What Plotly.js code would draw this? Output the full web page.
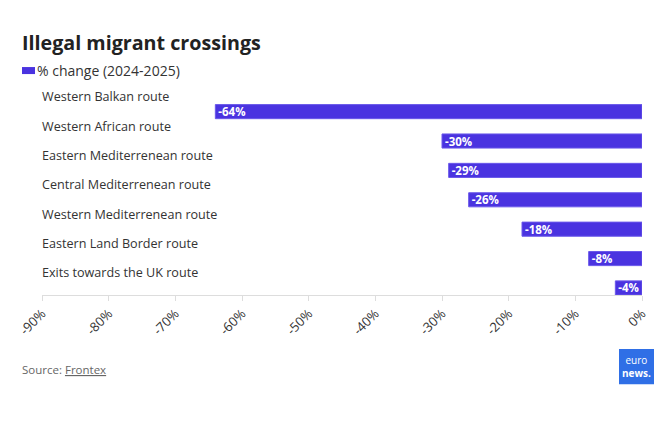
<!DOCTYPE html>
<html>
<head>
<meta charset="utf-8">
<script src="https://cdn.plot.ly/plotly-3.0.1.min.js"></script>
<style>html,body{margin:0;padding:0;background:#fff;}#chart{width:670px;height:421px;}</style>
</head>
<body>
<div id="chart"></div>
<script>
const routes = ["Western Balkan route","Western African route","Eastern Mediterrenean route","Central Mediterrenean route","Western Mediterrenean route","Eastern Land Border route","Exits towards the UK route"];
const change = [-64,-30,-29,-26,-18,-8,-4];
const labels = ["-64%","-30%","-29%","-26%","-18%","-8%","-4%"];
const seriesName = "% change (2024-2025)";
const tickVals = [-90,-80,-70,-60,-50,-40,-30,-20,-10,0];
const tickText = ["-90%","-80%","-70%","-60%","-50%","-40%","-30%","-20%","-10%","0%"];

const W=670,H=421, L=42, R=642, T=94.4, B=295;
const px = p => (p-L)/(R-L);
const py = p => (B-p)/(B-T);
const FONT = "Open Sans, Noto Sans, sans-serif";
const BLUE = "#4a33e0";

const trace = {
  type:"bar", orientation:"h", y:routes, x:change, text:labels,
  textposition:"inside", insidetextanchor:"end", textangle:0, constraintext:"none",
  textfont:{color:"#fff", size:11.5, family:FONT, weight:700},
  marker:{color:BLUE, line:{color:"#6a58ea", width:1}},
  width:0.48, name:seriesName, hoverinfo:"none", cliponaxis:false
};

const ann = routes.map(r => ({xref:"paper", x:0, xshift:-2, yref:"y", y:r, yshift:15, xanchor:"left", yanchor:"middle",
  text:r, showarrow:false, font:{size:12.6, color:"#333", family:FONT}}));
ann.push({xref:"paper", yref:"paper", x:px(20), y:py(43), xanchor:"left", yanchor:"middle", showarrow:false,
  text:"<b>Illegal migrant crossings</b>", font:{size:19.7, color:"#222", family:FONT}});
ann.push({xref:"paper", yref:"paper", x:px(35), y:py(71), xanchor:"left", yanchor:"middle", showarrow:false,
  text:seriesName, font:{size:14, color:"#333", family:FONT}});
ann.push({xref:"paper", yref:"paper", x:px(20), y:py(369), xanchor:"left", yanchor:"middle", showarrow:false,
  text:"Source: <u>Frontex</u>", font:{size:11.5, color:"#666", family:FONT}});
ann.push({xref:"paper", yref:"paper", x:px(636.5), y:py(366), xanchor:"center", yanchor:"middle", showarrow:false,
  text:"euro<br><b>news.</b>", align:"center", font:{size:10, color:"#fff", family:FONT}});

const shapes = [
  {type:"rect", xref:"paper", yref:"paper", x0:px(22), x1:px(35), y0:py(74.5), y1:py(67.5), fillcolor:BLUE, line:{width:0}},
  {type:"rect", xref:"paper", yref:"paper", x0:px(619), x1:px(654), y0:py(384), y1:py(349), fillcolor:"#2f6fe6", line:{width:0}}
];

const layout = {
  width:W, height:H, margin:{l:L, r:W-R, t:T, b:H-B, pad:0},
  paper_bgcolor:"#fff", plot_bgcolor:"#fff", showlegend:false,
  font:{family:FONT, color:"#333"},
  xaxis:{range:[-90,0], tickvals:tickVals, ticktext:tickText, tickangle:-45, showgrid:false, zeroline:false,
    showline:true, linecolor:"#dddddd", linewidth:1, ticks:"outside", ticklen:5, tickcolor:"#dddddd",
    tickfont:{size:13, color:"#333", family:FONT}, fixedrange:true},
  yaxis:{type:"category", range:[6.24,-0.6], showticklabels:false, showgrid:false, zeroline:false, showline:false, ticks:"", fixedrange:true},
  annotations:ann, shapes:shapes, bargap:0.5
};
Plotly.newPlot("chart",[trace],layout,{displayModeBar:false, staticPlot:true});
</script>
</body>
</html>
